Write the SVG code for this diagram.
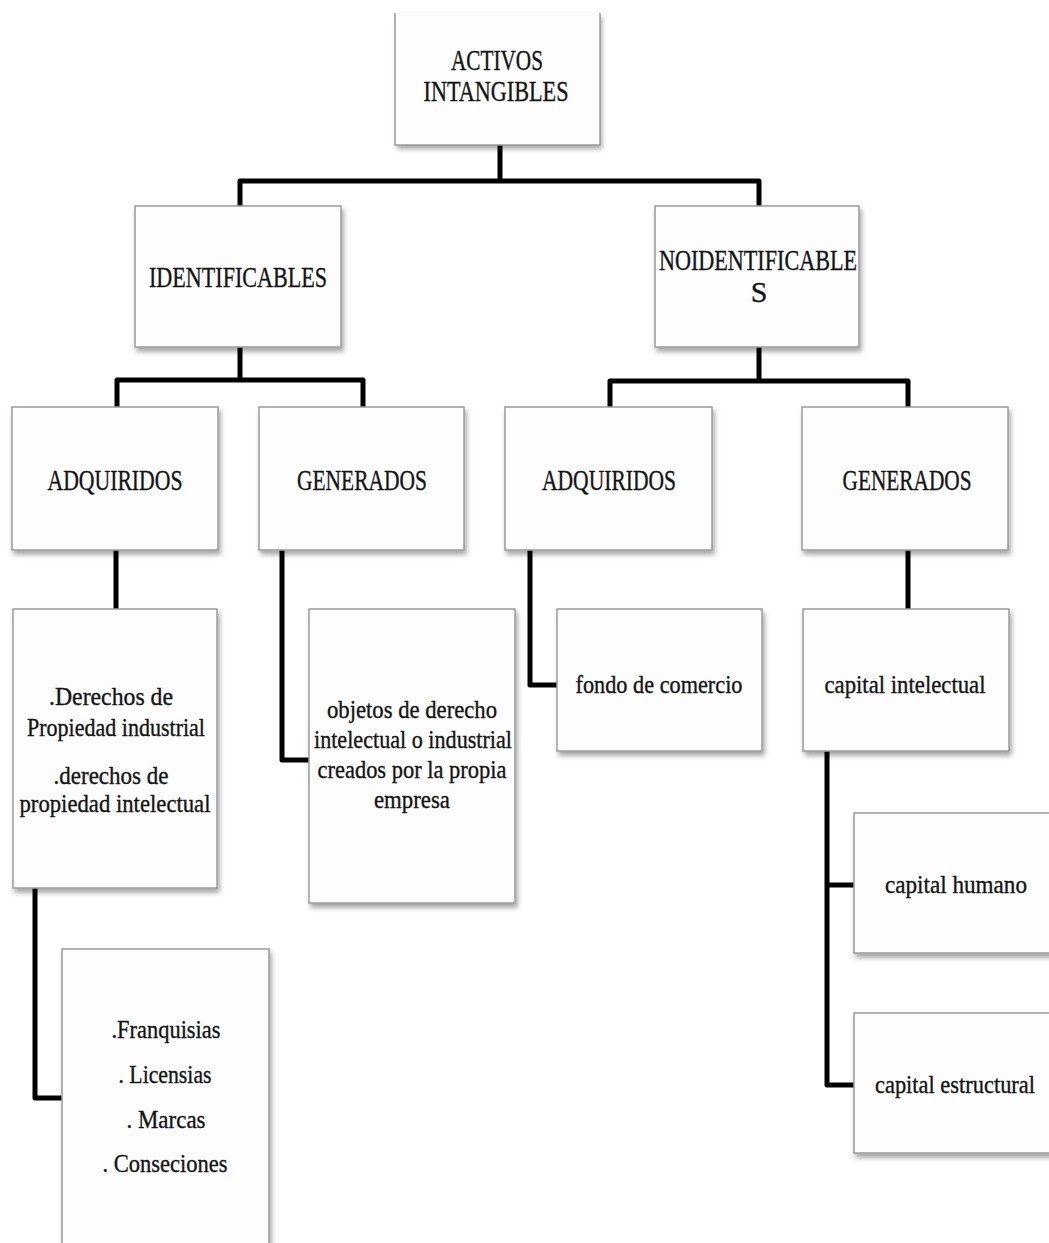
<svg xmlns="http://www.w3.org/2000/svg" width="1049" height="1243" viewBox="0 0 1049 1243">
  <style>
    .box { fill: #fdfdfd; stroke: #9a9a9a; stroke-width: 1.5; filter: url(#shadow); }
    .edge { fill: none; stroke: #9a9a9a; stroke-width: 1.5; }
    .link { fill: none; stroke: #000; stroke-width: 5; stroke-linejoin: round; stroke-linecap: butt; }
    .cap { font-family: "Liberation Serif", "Times New Roman", serif; font-size: 30px; fill: #141414; stroke: #141414; stroke-width: 0.35; text-anchor: middle; }
    .low { font-family: "Liberation Serif", "Times New Roman", serif; font-size: 25px; fill: #141414; stroke: #141414; stroke-width: 0.35; text-anchor: middle; }
  </style>
  <defs>
    <filter id="shadow" x="-10%" y="-10%" width="130%" height="130%">
      <feDropShadow dx="2" dy="4" stdDeviation="2.5" flood-color="#000" flood-opacity="0.35"/>
    </filter>
  </defs>

  <rect width="1049" height="1243" fill="#ffffff"/>

  <!-- tree connectors -->
  <g id="connectors">
    <path class="link" d="M500,145 V181"/>
    <path class="link" d="M240,206 V181 H759 V206"/>
    <path class="link" d="M240,347 V380"/>
    <path class="link" d="M117,407 V380 H363 V407"/>
    <path class="link" d="M759,347 V381"/>
    <path class="link" d="M610,407 V381 H908 V407"/>
    <path class="link" d="M116,550 V609"/>
    <path class="link" d="M282,550 V760 H309"/>
    <path class="link" d="M530,550 V685 H557"/>
    <path class="link" d="M908,550 V609"/>
    <path class="link" d="M35,888 V1098 H62"/>
    <path class="link" d="M827,751 V1085 H854"/>
    <path class="link" d="M827,885 H854"/>
  </g>

  <!-- root -->
  <g id="activos-intangibles">
    <rect class="box" x="395" y="13" width="205" height="132" style="stroke:none"/>
    <path class="edge" d="M395,13 V145 H600 V13"/>
    <text class="cap" x="497" y="70" textLength="92" lengthAdjust="spacingAndGlyphs">ACTIVOS</text>
    <text class="cap" x="496" y="101" textLength="145" lengthAdjust="spacingAndGlyphs">INTANGIBLES</text>
  </g>

  <!-- second level -->
  <g id="identificables">
    <rect class="box" x="135" y="206" width="206" height="141"/>
    <text class="cap" x="238" y="287" textLength="178" lengthAdjust="spacingAndGlyphs">IDENTIFICABLES</text>
  </g>
  <g id="noidentificables">
    <rect class="box" x="655" y="206" width="204" height="141"/>
    <text class="cap" x="758" y="270" textLength="198" lengthAdjust="spacingAndGlyphs">NOIDENTIFICABLE</text>
    <text class="cap" x="759" y="302">S</text>
  </g>

  <!-- third level -->
  <g id="id-adquiridos">
    <rect class="box" x="12" y="407" width="206" height="143"/>
    <text class="cap" x="115" y="490" textLength="135" lengthAdjust="spacingAndGlyphs">ADQUIRIDOS</text>
  </g>
  <g id="id-generados">
    <rect class="box" x="259" y="407" width="205" height="143"/>
    <text class="cap" x="362" y="490" textLength="130" lengthAdjust="spacingAndGlyphs">GENERADOS</text>
  </g>
  <g id="noid-adquiridos">
    <rect class="box" x="505" y="407" width="207" height="143"/>
    <text class="cap" x="609" y="490" textLength="134" lengthAdjust="spacingAndGlyphs">ADQUIRIDOS</text>
  </g>
  <g id="noid-generados">
    <rect class="box" x="802" y="407" width="206" height="143"/>
    <text class="cap" x="907" y="490" textLength="129" lengthAdjust="spacingAndGlyphs">GENERADOS</text>
  </g>

  <!-- fourth level -->
  <g id="derechos">
    <rect class="box" x="13" y="609" width="204" height="279"/>
    <text class="low" x="111" y="705" textLength="124" lengthAdjust="spacingAndGlyphs">.Derechos de</text>
    <text class="low" x="116" y="736" textLength="178" lengthAdjust="spacingAndGlyphs">Propiedad industrial</text>
    <text class="low" x="111" y="784" textLength="115" lengthAdjust="spacingAndGlyphs">.derechos de</text>
    <text class="low" x="115" y="812" textLength="191" lengthAdjust="spacingAndGlyphs">propiedad intelectual</text>
  </g>
  <g id="objetos">
    <rect class="box" x="309" y="609" width="206" height="294"/>
    <text class="low" x="412" y="718" textLength="170" lengthAdjust="spacingAndGlyphs">objetos de derecho</text>
    <text class="low" x="413" y="748" textLength="198" lengthAdjust="spacingAndGlyphs">intelectual o industrial</text>
    <text class="low" x="412" y="778" textLength="189" lengthAdjust="spacingAndGlyphs">creados por la propia</text>
    <text class="low" x="412" y="808" textLength="76" lengthAdjust="spacingAndGlyphs">empresa</text>
  </g>
  <g id="fondo-comercio">
    <rect class="box" x="557" y="609" width="205" height="142"/>
    <text class="low" x="659" y="693" textLength="167" lengthAdjust="spacingAndGlyphs">fondo de comercio</text>
  </g>
  <g id="capital-intelectual">
    <rect class="box" x="803" y="609" width="206" height="142"/>
    <text class="low" x="905" y="693" textLength="161" lengthAdjust="spacingAndGlyphs">capital intelectual</text>
  </g>

  <!-- fifth level -->
  <g id="franquisias">
    <rect class="box" x="62" y="949" width="207" height="310"/>
    <text class="low" x="166" y="1038" textLength="109" lengthAdjust="spacingAndGlyphs">.Franquisias</text>
    <text class="low" x="165" y="1083" textLength="93" lengthAdjust="spacingAndGlyphs">. Licensias</text>
    <text class="low" x="166" y="1128" textLength="79" lengthAdjust="spacingAndGlyphs">. Marcas</text>
    <text class="low" x="165" y="1172" textLength="125" lengthAdjust="spacingAndGlyphs">. Conseciones</text>
  </g>
  <g id="capital-humano">
    <rect class="box" x="854" y="813" width="210" height="140"/>
    <text class="low" x="956" y="893" textLength="142" lengthAdjust="spacingAndGlyphs">capital humano</text>
  </g>
  <g id="capital-estructural">
    <rect class="box" x="854" y="1013" width="210" height="140"/>
    <text class="low" x="955" y="1093" textLength="160" lengthAdjust="spacingAndGlyphs">capital estructural</text>
  </g>
</svg>
